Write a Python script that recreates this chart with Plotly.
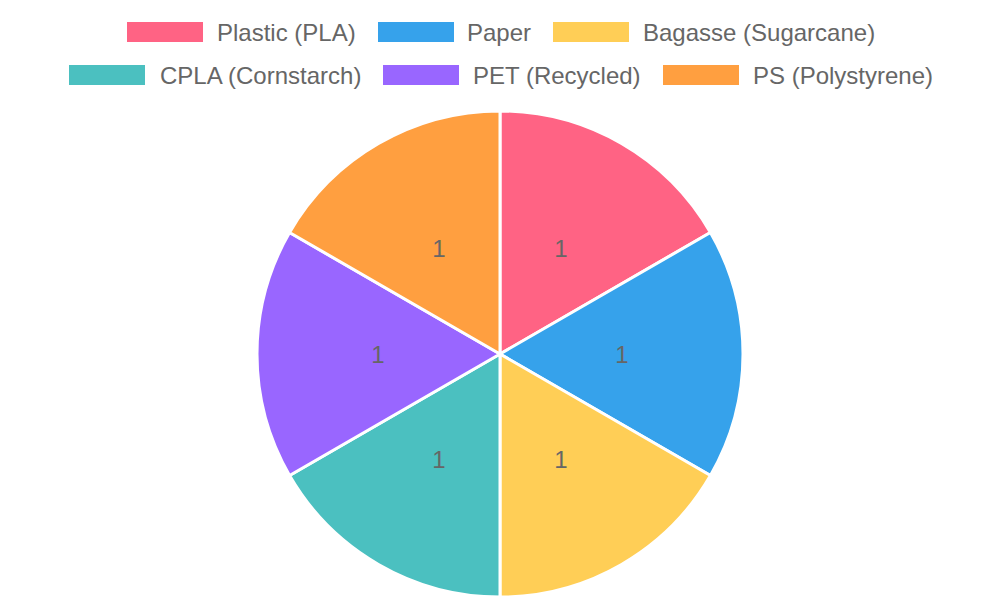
import plotly.graph_objects as go

# data
materials = ["Plastic (PLA)", "Paper", "Bagasse (Sugarcane)",
             "CPLA (Cornstarch)", "PET (Recycled)", "PS (Polystyrene)"]
counts = [1, 1, 1, 1, 1, 1]
colors = ["#FF6384", "#36A2EB", "#FFCE56", "#4BC0C0", "#9966FF", "#FF9F40"]

W, H = 1000, 600
OFF = 8  # page body margin
FONT = "Liberation Sans, Arial, sans-serif"
TXT = "#666666"

cx, cy0, R = 500 - OFF, 354 - OFF, 243
r_lab = 183  # radius of the invisible pie that carries the value labels

fig = go.Figure()
fig.add_trace(go.Pie(
    labels=materials, values=counts,
    sort=False, direction="clockwise", rotation=0,
    marker=dict(colors=colors, line=dict(color="white", width=3)),
    textinfo="none",
    domain=dict(x=[0, 2 * cx / W], y=[(H - cy0 - R) / H, (H - cy0 + R) / H]),
    hoverinfo="label+value",
    showlegend=False,
))
fig.add_trace(go.Pie(
    labels=materials, values=counts,
    sort=False, direction="clockwise", rotation=0,
    marker=dict(colors=["rgba(0,0,0,0)"] * len(counts), line=dict(width=0)),
    textinfo="value", textposition="inside",
    insidetextorientation="horizontal",
    textfont=dict(family=FONT, size=24, color=TXT),
    domain=dict(x=[0, 2 * cx / W], y=[(H - cy0 - r_lab) / H, (H - cy0 + r_lab) / H]),
    hoverinfo="skip",
    showlegend=False,
))

# custom legend: box left x, text left x, row centre y (pixels in window)
legend_pos = [(127, 215, 32), (378, 465, 32), (553, 641, 32),
              (69, 158, 75), (383, 471, 75), (663, 751, 75)]
shapes, annots = [], []
for name, col, (bx, tx, ly) in zip(materials, colors, legend_pos):
    bx, tx, ly = bx - OFF, tx - OFF, ly - OFF
    shapes.append(dict(type="rect", xref="paper", yref="paper",
                       x0=bx / W, x1=(bx + 76) / W,
                       y0=(H - ly - 10) / H, y1=(H - ly + 10) / H,
                       fillcolor=col, line=dict(width=0)))
    annots.append(dict(text=name, xref="paper", yref="paper",
                       x=tx / W, y=(H - ly) / H, xanchor="left", yanchor="middle",
                       showarrow=False, font=dict(family=FONT, size=24, color=TXT)))

fig.update_layout(
    width=W, height=H,
    margin=dict(t=0, b=0, l=0, r=0),
    paper_bgcolor="white", plot_bgcolor="white",
    shapes=shapes, annotations=annots,
    font=dict(family=FONT, color=TXT),
)

fig.write_html("out.html")
